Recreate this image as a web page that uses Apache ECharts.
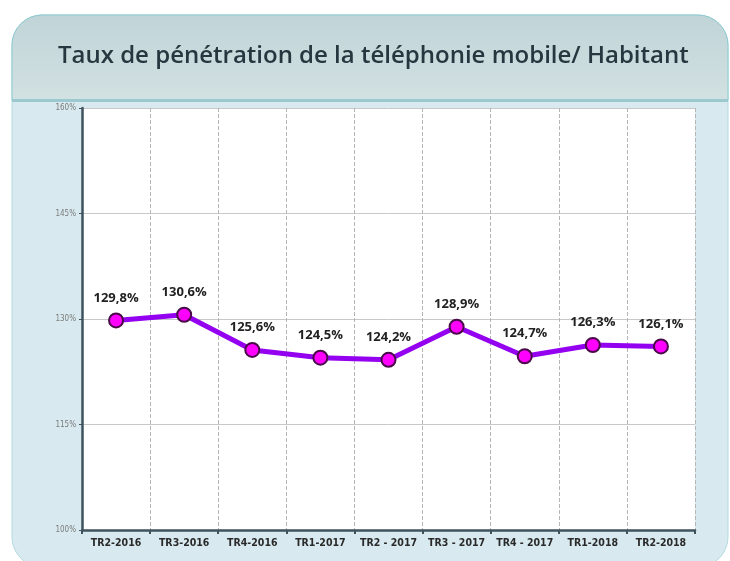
<!DOCTYPE html>
<html>
<head>
<meta charset="utf-8">
<script src="https://cdn.jsdelivr.net/npm/echarts@6/dist/echarts.min.js"></script>
<style>
  html, body {margin: 0; padding: 0; background: #fff;}
  #chart {width: 730px; height: 561px;}
</style>
</head>
<body>
<div id="chart"></div>
<script>
  const title = 'Taux de pénétration de la téléphonie mobile/ Habitant';
  const quarters = [
    'TR2-2016', 'TR3-2016', 'TR4-2016', 'TR1-2017', 'TR2 - 2017',
    'TR3 - 2017', 'TR4 - 2017', 'TR1-2018', 'TR2-2018',
  ];
  const penetration = [129.8, 130.6, 125.6, 124.5, 124.2, 128.9, 124.7, 126.3, 126.1];
  const yTicks = {min: 100, max: 160, step: 15};

  const chart = echarts.init(document.getElementById('chart'), null, {renderer: 'canvas'});

  const percent = (value) => `${String(value).replace('.', ',')}%`;

  chart.setOption({
    animation: false,
    backgroundColor: '#fff',
    graphic: [
      {
        type: 'rect', z: -10, silent: true,
        shape: {x: 12, y: 15, width: 716, height: 552, r: 30},
        style: {fill: '#d8eaf0', stroke: '#b4dadf', lineWidth: 1},
      },
      {
        type: 'rect', z: -9, silent: true,
        shape: {x: 12, y: 15, width: 716, height: 85, r: [30, 30, 0, 0]},
        style: {
          fill: new echarts.graphic.LinearGradient(0, 0, 0, 1, [
            {offset: 0, color: '#c0d4d7'},
            {offset: 1, color: '#d2e1e2'},
          ]),
          stroke: '#8ccbd0', lineWidth: 1,
        },
      },
      {
        type: 'rect', z: -8, silent: true,
        shape: {x: 12, y: 99, width: 716, height: 3},
        style: {fill: '#9cc9d0'},
      },
      {
        type: 'text', z: 5, silent: true,
        left: 58, top: 44,
        style: {
          text: title,
          fill: '#263740',
          font: '600 24px "Open Sans", sans-serif',
        },
      },
    ],
    grid: {
      left: 82, right: 35, top: 108, bottom: 31,
      show: true, backgroundColor: '#fff', borderWidth: 0,
    },
    xAxis: {
      type: 'category',
      data: quarters,
      boundaryGap: true,
      axisLine: {lineStyle: {color: '#3f535e', width: 2.5}},
      axisTick: {show: true, interval: 0, length: 4, lineStyle: {color: '#3f535e', width: 2}},
      splitLine: {
        show: true, interval: 0,
        lineStyle: {color: '#b5b5b5', type: 'dashed', width: 1},
      },
      axisLabel: {
        interval: 0,
        color: '#2a2a2a', fontSize: 10.5, fontWeight: 'bold',
        fontFamily: '"DejaVu Sans Condensed", sans-serif', margin: 8,
      },
    },
    yAxis: {
      type: 'value',
      min: yTicks.min, max: yTicks.max, interval: yTicks.step,
      axisLine: {show: true, lineStyle: {color: '#3f535e', width: 2.5}},
      axisTick: {show: true, length: 3, lineStyle: {color: '#3f535e'}},
      splitLine: {lineStyle: {color: '#c8c8c8', width: 1}},
      axisLabel: {
        formatter: '{value}%', color: '#7a7a7a', fontSize: 8,
        fontFamily: '"DejaVu Sans Condensed", sans-serif', margin: 6,
      },
    },
    series: [{
      type: 'line',
      data: penetration,
      symbol: 'circle',
      symbolSize: 14,
      lineStyle: {color: '#9400f0', width: 5},
      itemStyle: {color: '#ff00ff', borderColor: '#4a0a4a', borderWidth: 2},
      label: {
        show: true, position: 'top', distance: 8,
        formatter: (params) => percent(params.value),
        color: '#222', fontSize: 13, fontWeight: 'bold',
        fontFamily: '"Open Sans", sans-serif',
      },
    }],
  });
</script>
</body>
</html>
